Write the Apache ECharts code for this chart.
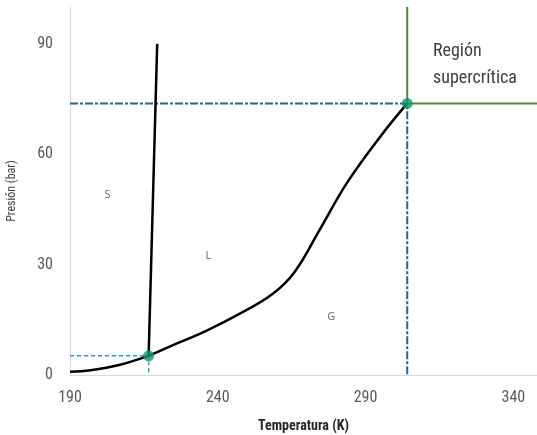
<!DOCTYPE html>
<html>
<head>
<meta charset="utf-8">
<script src="https://cdn.jsdelivr.net/npm/echarts@6/dist/echarts.min.js"></script>
<style>
  html, body { margin: 0; padding: 0; background: #fff; }
  #chart { width: 537px; height: 435px; }
</style>
</head>
<body>
<div id="chart"></div>
<script>
// CO2 phase diagram: temperature (K) vs pressure (bar)
const xTicks = [190, 240, 290, 340];
const yTicks = [0, 30, 60, 90];

// Triple and critical points [T, P]
const triplePoint = [216.6, 5.2];
const criticalPoint = [304.1, 73.8];

// Sublimation curve (solid–gas)
const sublimationT = [190, 196.4, 206.6, 216.6];
const sublimationP = [0.9, 1.2, 2.7, 5.2];

// Vaporisation curve (liquid–gas)
const vaporT = [216.6, 226.0, 236.1, 247.3, 258.5, 266.0, 274.5, 283.7, 294.9, 304.1];
const vaporP = [5.2, 8.5, 12.0, 16.6, 22.0, 28.0, 39.5, 52.2, 64.7, 73.8];

// Melting curve (solid–liquid)
const meltingT = [216.6, 219.5];
const meltingP = [5.2, 90.0];

// Phase region labels
const phaseLabels = [
  { name: 'S', T: 202.7, P: 49 },
  { name: 'L', T: 236.8, P: 32.4 },
  { name: 'G', T: 278.4, P: 15.9 }
];

const xMin = 190, xMax = 348, yMin = 0, yMax = 100;

const zip = (a, b) => a.map((v, i) => [v, b[i]]);

const chart = echarts.init(document.getElementById('chart'));

const narrow = '"Liberation Sans Narrow", "Roboto Condensed", Roboto, sans-serif';

chart.setOption({
  animation: false,
  grid: { left: 70, right: 0, top: 7, bottom: 60, containLabel: false, outerBoundsMode: 'none' },
  xAxis: {
    type: 'value', min: xMin, max: xMax, interval: 50,
    name: 'Temperatura (K)', nameLocation: 'middle', nameGap: 44,
    nameTextStyle: { fontFamily: narrow, fontSize: 14, fontWeight: 'bold', color: '#262626' },
    axisLine: { show: true, lineStyle: { color: '#d9d9d9', width: 1 } },
    axisTick: { show: false },
    splitLine: { show: false },
    axisLabel: {
      fontFamily: narrow, fontSize: 16, color: '#595959', margin: 15,
      showMaxLabel: false,
      formatter: v => xTicks.includes(v) ? String(v) : ''
    }
  },
  yAxis: {
    type: 'value', min: yMin, max: yMax, interval: 30,
    name: 'Presión (bar)', nameLocation: 'middle', nameGap: 52, nameRotate: 90,
    nameTextStyle: { fontFamily: narrow, fontSize: 12, color: '#404040' },
    axisLine: { show: true, lineStyle: { color: '#d9d9d9', width: 1 } },
    axisTick: { show: false },
    splitLine: { show: false },
    axisLabel: {
      fontFamily: narrow, fontSize: 16, color: '#595959', margin: 17,
      showMaxLabel: false,
      formatter: v => yTicks.includes(v) ? String(v) : ''
    }
  },
  series: [
    // Critical point guide lines
    {
      type: 'line', symbol: 'none', silent: true, z: 2,
      data: [[xMin, criticalPoint[1]], criticalPoint, [criticalPoint[0], yMin]],
      lineStyle: { color: '#1d6a8c', width: 2, type: [8, 2, 3, 2] }
    },
    // Triple point guide lines
    {
      type: 'line', symbol: 'none', silent: true, z: 2,
      data: [[xMin, triplePoint[1]], triplePoint, [triplePoint[0], yMin]],
      lineStyle: { color: '#2b9bd3', width: 1.5, type: [4, 3] }
    },
    // Supercritical region boundary
    {
      type: 'line', symbol: 'none', silent: true, z: 3,
      data: [[criticalPoint[0], yMax], criticalPoint, [xMax, criticalPoint[1]]],
      lineStyle: { color: '#4b8a3a', width: 2 }
    },
    // Phase boundaries
    {
      type: 'line', symbol: 'none', smooth: 0.3, z: 4,
      data: zip(sublimationT, sublimationP),
      lineStyle: { color: '#000', width: 2.5 }
    },
    {
      type: 'line', symbol: 'none', smooth: 0.4, z: 4,
      data: zip(vaporT, vaporP),
      lineStyle: { color: '#000', width: 2.5 }
    },
    {
      type: 'line', symbol: 'none', z: 4,
      data: zip(meltingT, meltingP),
      lineStyle: { color: '#000', width: 2.5 }
    },
    // Triple and critical point markers
    {
      type: 'scatter', z: 6, symbol: 'circle', symbolSize: 11,
      data: [triplePoint, criticalPoint],
      itemStyle: { color: '#13946b' }
    },
    // Region labels
    {
      type: 'scatter', z: 5, symbolSize: 0,
      data: phaseLabels.map(d => ({ value: [d.T, d.P], name: d.name })),
      label: {
        show: true, position: 'inside', formatter: p => p.name,
        fontFamily: '"Open Sans", sans-serif', fontSize: 11, color: '#404040'
      }
    }
  ],
  graphic: [
    {
      type: 'text', left: 433, top: 38,
      style: {
        text: 'Región\nsupercrítica', fontFamily: narrow, fontSize: 18,
        lineHeight: 27, fill: '#404040'
      }
    }
  ]
});
</script>
</body>
</html>
